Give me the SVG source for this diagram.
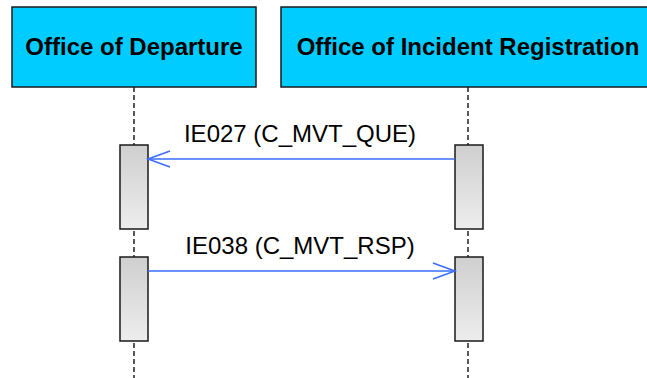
<svg xmlns="http://www.w3.org/2000/svg" width="647" height="378" viewBox="0 0 647 378">
<style>
.hdr{fill:#00ccff;stroke:#1a1a1a;stroke-width:1.5}
.ht{font-family:"Liberation Sans",Arial,sans-serif;font-weight:bold;font-size:24px;fill:#000;text-anchor:middle}
.life{stroke:#000;stroke-width:1.3;stroke-dasharray:5,3;fill:none}
.act{fill:url(#g);stroke:#1a1a1a;stroke-width:1.5}
.msg{stroke:#3a6cff;stroke-width:1.5;fill:none}
.ml{font-family:"Liberation Sans",Arial,sans-serif;font-size:24px;fill:#000;text-anchor:middle}
</style>
<defs>
<linearGradient id="g" x1="0" y1="0" x2="0" y2="1">
<stop offset="0" stop-color="#cfcfcf"/>
<stop offset="1" stop-color="#ededed"/>
</linearGradient>
</defs>
<rect width="647" height="378" fill="#fff"/>
<g id="lifelines">
<line class="life" x1="134" y1="87" x2="134" y2="378"/>
<line class="life" x1="468" y1="87" x2="468" y2="378"/>
</g>
<g id="office-of-departure">
<rect class="hdr" x="12" y="7" width="244" height="80"/>
<text class="ht" x="134" y="55">Office of Departure</text>
<rect class="act" x="120" y="145" width="28" height="84"/>
<rect class="act" x="120" y="257" width="28" height="84"/>
</g>
<g id="office-of-incident-registration">
<rect class="hdr" x="281" y="7" width="374" height="80"/>
<text class="ht" x="468" y="55">Office of Incident Registration</text>
<rect class="act" x="455" y="145" width="28" height="84"/>
<rect class="act" x="455" y="257" width="28" height="84"/>
</g>
<g id="connectors">
<line class="msg" x1="455" y1="159" x2="148" y2="159"/>
<polyline class="msg" points="170,151 148,159 170,167"/>
<text class="ml" x="300" y="142">IE027 (C_MVT_QUE)</text>
<line class="msg" x1="148" y1="271" x2="455" y2="271"/>
<polyline class="msg" points="433,263 455,271 433,279"/>
<text class="ml" x="300" y="254">IE038 (C_MVT_RSP)</text>
</g>
</svg>
